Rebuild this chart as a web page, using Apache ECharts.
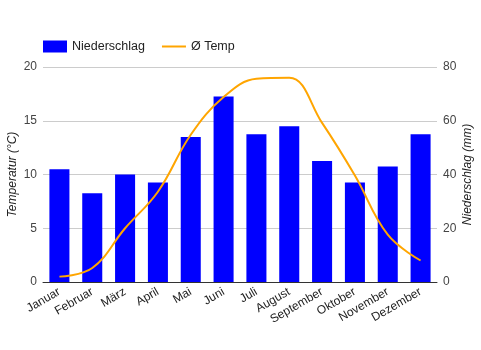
<!DOCTYPE html>
<html><head><meta charset="utf-8">
<script src="https://cdn.jsdelivr.net/npm/echarts@6/dist/echarts.min.js"></script>
<style>html,body{margin:0;padding:0;background:#fff}#c{width:481px;height:350px}</style>
</head><body><div id="c"></div>
<script>
const months = ['Januar','Februar','März','April','Mai','Juni','Juli','August','September','Oktober','November','Dezember'];
const niederschlag = [42, 33, 40, 37, 54, 69, 55, 58, 45, 37, 43, 55];
const temp = [0.5, 1.3, 5.0, 8.4, 13.7, 17.2, 18.9, 19.0, 14.8, 9.9, 4.4, 2.0];
const leftTicks = [0, 5, 10, 15, 20];
const rightTicks = [0, 20, 40, 60, 80];

const chart = echarts.init(document.getElementById('c'));
const font = 'Arial, "Liberation Sans", sans-serif';
chart.setOption({
  animation: false,
  textStyle: {fontFamily: font},
  legend: {
    left: 38, top: 35, itemWidth: 24, itemHeight: 12, itemGap: 16,
    textStyle: {fontSize: 12.5, color: '#222', fontFamily: font},
    data: [{name: 'Niederschlag', icon: 'rect'},
           {name: 'Ø Temp', itemStyle: {opacity: 0}}]
  },
  grid: {left: 43, right: 44, top: 67, bottom: 68, outerBoundsMode: 'none', containLabel: false},
  xAxis: {
    type: 'category', data: months,
    axisLine: {lineStyle: {color: '#333', width: 1}},
    axisTick: {show: false},
    axisLabel: {rotate: 30, interval: 0, fontSize: 12, color: '#222', fontFamily: font, margin: 9}
  },
  yAxis: [
    {type: 'value', min: leftTicks[0], max: leftTicks[leftTicks.length-1], interval: 5,
     name: 'Temperatur (°C)', nameLocation: 'middle', nameRotate: 90, nameGap: 24, nameMoveOverlap: false,
     nameTextStyle: {fontStyle: 'italic', fontSize: 12, color: '#222', fontFamily: font},
     axisLine: {show: false}, axisTick: {show: false},
     axisLabel: {fontSize: 12, color: '#444', margin: 6, fontFamily: font},
     splitLine: {lineStyle: {color: '#ccc'}}},
    {type: 'value', min: rightTicks[0], max: rightTicks[rightTicks.length-1], interval: 20,
     name: 'Niederschlag (mm)', nameLocation: 'middle', nameRotate: 90, nameGap: 25, nameMoveOverlap: false,
     nameTextStyle: {fontStyle: 'italic', fontSize: 12, color: '#222', fontFamily: font},
     axisLine: {show: false}, axisTick: {show: false},
     axisLabel: {fontSize: 12, color: '#444', margin: 6, fontFamily: font},
     splitLine: {show: false}}
  ],
  series: [
    {name: 'Niederschlag', type: 'bar', yAxisIndex: 1, data: niederschlag,
     barWidth: '61%', itemStyle: {color: '#0000ff'}},
    {name: 'Ø Temp', type: 'line', yAxisIndex: 0, data: temp, smooth: 0.4,
     showSymbol: false, symbol: 'none', lineStyle: {color: '#ffa500', width: 2}, itemStyle: {color: '#ffa500'}}
  ]
});
</script></body></html>
